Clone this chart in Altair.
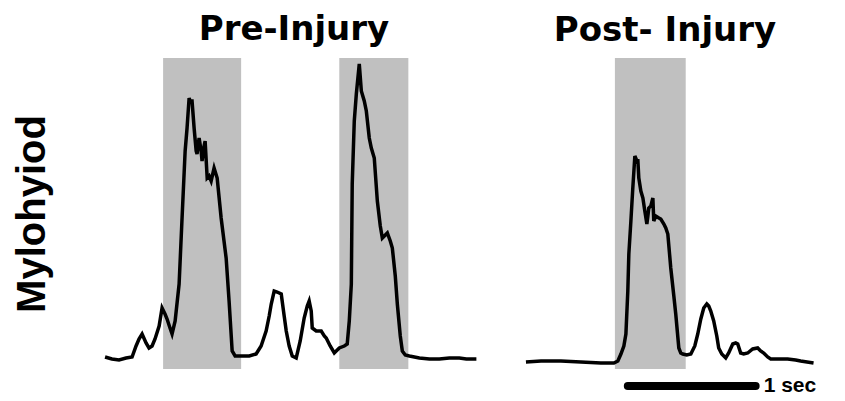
import altair as alt
import pandas as pd

# ---- data (time in s, amplitude in arbitrary units) ----
pre_t = [0.016, 0.070, 0.125, 0.180, 0.227, 0.258, 0.281, 0.305, 0.336, 0.359, 0.383, 0.406, 0.438,
         0.461, 0.484, 0.500, 0.523, 0.539, 0.563, 0.594, 0.617, 0.641, 0.656, 0.672, 0.680, 0.695,
         0.711, 0.727, 0.734, 0.750, 0.766, 0.773, 0.789, 0.797, 0.813, 0.828, 0.844, 0.867, 0.891,
         0.922, 0.961, 0.984, 1.008, 1.031, 1.063, 1.141, 1.195, 1.234, 1.273, 1.297, 1.313, 1.336,
         1.359, 1.391, 1.414, 1.430, 1.453, 1.477, 1.508, 1.539, 1.570, 1.594, 1.609, 1.625, 1.633,
         1.664, 1.703, 1.727, 1.742, 1.773, 1.805, 1.844, 1.883, 1.906, 1.922, 1.938, 1.945, 1.961,
         1.977, 2.000, 2.016, 2.039, 2.055, 2.078, 2.094, 2.117, 2.141, 2.164, 2.180, 2.219, 2.242,
         2.258, 2.281, 2.297, 2.320, 2.336, 2.359, 2.391, 2.469, 2.547, 2.625, 2.703, 2.781, 2.836, 2.914]
pre_a = [12, 10, 9, 11, 12, 23, 30, 35, 26, 21, 23, 30, 43,
         61, 55, 50, 41, 35, 48, 85, 151, 218, 241, 271, 268, 268,
         241, 218, 215, 231, 218, 208, 223, 228, 191, 193, 188, 201, 191,
         151, 111, 68, 18, 13, 13, 13, 15, 23, 38, 53, 65, 78,
         77, 75, 53, 38, 23, 13, 11, 28, 51, 63, 68, 58, 41,
         38, 38, 33, 31, 23, 16, 21, 23, 25, 48, 85, 185, 248,
         275, 305, 278, 268, 258, 231, 221, 211, 168, 143, 131, 136, 128,
         121, 93, 65, 33, 18, 14, 13, 11, 10, 10, 11, 11, 10, 10]
pre_bands_start = [0.469, 1.844]
pre_bands_end = [1.078, 2.383]

post_t = [0.023, 0.141, 0.297, 0.453, 0.609, 0.711, 0.742, 0.766, 0.789, 0.805, 0.820, 0.828, 0.844,
          0.859, 0.875, 0.891, 0.898, 0.906, 0.922, 0.938, 0.953, 0.969, 0.977, 0.984, 1.000, 1.016,
          1.023, 1.039, 1.063, 1.078, 1.102, 1.117, 1.133, 1.156, 1.180, 1.195, 1.219, 1.234, 1.250,
          1.281, 1.313, 1.344, 1.367, 1.391, 1.414, 1.438, 1.453, 1.469, 1.492, 1.516, 1.531, 1.555,
          1.586, 1.609, 1.641, 1.664, 1.680, 1.703, 1.727, 1.758, 1.797, 1.836, 1.859, 1.883, 1.914,
          1.938, 2.016, 2.070, 2.133, 2.172, 2.273]
post_a = [7, 8, 8, 7, 6, 6, 8, 15, 23, 35, 78, 115, 148,
          181, 213, 208, 210, 191, 178, 171, 158, 145, 153, 161, 163, 171,
          148, 153, 151, 150, 145, 141, 135, 101, 73, 55, 21, 16, 15,
          14, 15, 23, 35, 50, 61, 65, 63, 58, 48, 33, 21, 15,
          11, 16, 25, 26, 25, 16, 15, 16, 20, 21, 18, 16, 12,
          10, 10, 10, 9, 8, 6]
post_band_start = [0.719]
post_band_end = [1.273]

scale_start = [0.82]
scale_len_s = [1.0]
scale_level = [-17]

pre_df = pd.DataFrame({"t": pre_t, "a": pre_a})
post_df = pd.DataFrame({"t": post_t, "a": post_a})
pre_bands = pd.DataFrame({"t0": pre_bands_start, "t1": pre_bands_end})
post_bands = pd.DataFrame({"t0": post_band_start, "t1": post_band_end})
bar_df = pd.DataFrame({"t0": scale_start,
                       "t1": [s + l for s, l in zip(scale_start, scale_len_s)],
                       "y": scale_level,
                       "label": ["1 sec"]})

Y_DOM = [0, 311]
GRAY = "#c0c0c0"

def title(text, dx):
    return alt.TitleParams(text, font="DejaVu Sans", fontSize=34, fontWeight="bold",
                           color="black", baseline="alphabetic", offset=-17, dx=dx)

# Left panel
lxs = alt.Scale(domain=[0, 2.95], nice=False, zero=False)
lys = alt.Scale(domain=Y_DOM, nice=False)
ly = alt.Y("a:Q", scale=lys,
           axis=alt.Axis(title="Mylohyiod", labels=False, ticks=False, domain=False, grid=False,
                         titleFont="Liberation Sans", titleFontSize=40, titleFontWeight="bold",
                         titleColor="black", titlePadding=51))

pre_band_layer = alt.Chart(pre_bands).mark_rect(color=GRAY).encode(
    x=alt.X("t0:Q", scale=lxs, axis=None), x2="t1:Q",
    y=alt.value(0), y2=alt.value(311))
pre_line = alt.Chart(pre_df).mark_line(color="black", strokeWidth=3.5).encode(
    x=alt.X("t:Q", scale=lxs, axis=None), y=ly)
left = alt.layer(pre_band_layer, pre_line).properties(
    width=378, height=311, title=title("Pre-Injury", 2))

# Right panel
rxs = alt.Scale(domain=[0, 2.3], nice=False, zero=False)
rys = alt.Scale(domain=Y_DOM, nice=False)
post_band_layer = alt.Chart(post_bands).mark_rect(color=GRAY).encode(
    x=alt.X("t0:Q", scale=rxs, axis=None), x2="t1:Q",
    y=alt.value(0), y2=alt.value(311))
post_line = alt.Chart(post_df).mark_line(color="black", strokeWidth=3.5).encode(
    x=alt.X("t:Q", scale=rxs, axis=None), y=alt.Y("a:Q", scale=rys, axis=None))
bar = alt.Chart(bar_df).mark_rule(color="black", strokeWidth=8, strokeCap="round").encode(
    x=alt.X("t0:Q", scale=rxs, axis=None), x2="t1:Q",
    y=alt.Y("y:Q", scale=rys, axis=None))
bar_text = alt.Chart(bar_df).mark_text(font="Liberation Sans", fontSize=21, fontWeight="bold",
                                       align="left", baseline="middle", dx=8, color="black").encode(
    x=alt.X("t1:Q", scale=rxs, axis=None), y=alt.Y("y:Q", scale=rys, axis=None), text="label:N")
right = alt.layer(post_band_layer, post_line, bar, bar_text).properties(
    width=294, height=311, title=title("Post- Injury", -5))

chart = alt.hconcat(left, right, spacing=34).properties(
    padding={"left": 4, "top": 5, "right": 0, "bottom": 0}
).configure(background="white").configure_view(stroke="transparent", strokeWidth=0)

chart.save("out.html", embed_options={"renderer": "svg", "actions": False})
